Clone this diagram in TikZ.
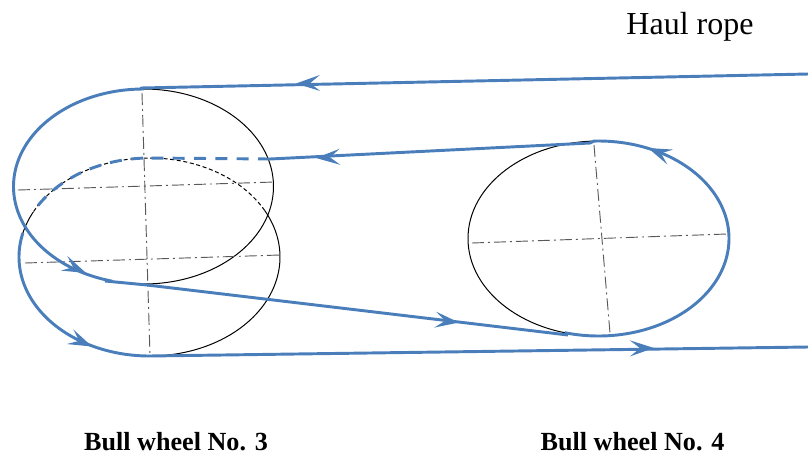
\documentclass[tikz,border=0pt]{standalone}
\usepackage{fontspec}
\setmainfont{Liberation Serif}
\tikzset{
  x=0.75pt,y=-0.75pt,
  rope/.style={draw=ropeblue,line width=2.2pt,line join=round},
  ropedash/.style={rope,dash pattern=on 9pt off 7pt},
  wheel/.style={draw=black,line width=0.75pt},
  wheeldash/.style={wheel,dash pattern=on 3pt off 2pt},
  axisline/.style={draw=axisgray,line width=0.7pt,dash pattern=on 9pt off 3pt on 1.5pt off 3pt},
  headfill/.style={fill=ropeblue,draw=none},
  label/.style={inner sep=0pt,anchor=center}
}
\definecolor{ropeblue}{HTML}{4A7EBB}
\definecolor{axisgray}{HTML}{595959}
% tip x, tip y, direction in screen degrees (clockwise from +x)
\newcommand{\rophead}[3]{\fill[headfill,shift={(#1,#2)},rotate=-#3] (0,0) -- (-24,-8) -- (-14,0) -- (-24,8) -- cycle;}
\begin{document}
\begin{tikzpicture}
\useasboundingbox (0,0) rectangle (808,455);
% wheel outlines
\draw[wheel] (143.5,186.5) ellipse [x radius=130,y radius=97.5];
\draw[wheel] plot[domain=-92:28,samples=100] ({149.5+130.5*cos(\x)},{257-99*sin(\x)});
\draw[wheel] plot[domain=153:168,samples=20] ({149.5+130.5*cos(\x)},{257-99*sin(\x)});
\draw[wheeldash] plot[domain=28:153,samples=100] ({149.5+130.5*cos(\x)},{257-99*sin(\x)});
\draw[wheel] (598.5,238.5) ellipse [x radius=130.5,y radius=97.5];
% centre lines
\draw[axisline] (18,190) -- (275,182);
\draw[axisline] (25,263) -- (280,255);
\draw[axisline] (142,93) -- (150,355);
\draw[axisline] (472,243) -- (727,234);
\draw[axisline] (594,145) -- (610,333);
% rope
\draw[rope] (808,74) -- (141,88) -- plot[domain=90:256,samples=120] ({143.5+130*cos(\x)},{186.5-97.5*sin(\x)});
\draw[rope] (105,281) -- (147,285) -- (568,335);
\draw[rope] plot[domain=-105:92,samples=140] ({598.5+130.5*cos(\x)},{238.5-97.5*sin(\x)}) -- (590,143) -- (270,159);
\draw[ropedash] (270,159) -- (149,158) -- plot[domain=90:153,samples=60] ({149.5+130.5*cos(\x)},{257-99*sin(\x)});
\draw[rope] plot[domain=166:270,samples=100] ({149.5+130.5*cos(\x)},{257-99*sin(\x)}) -- (808,347);
% arrowheads
\rophead{296}{83.5}{178.8}
\rophead{316}{158}{177.2}
\rophead{648}{148}{202}
\rophead{459}{322.5}{6.8}
\rophead{654}{348}{-0.8}
\rophead{86}{273}{24}
\rophead{92}{346.5}{24}
% labels
\node[label,font=\fontsize{24}{28}\selectfont] (haul) at (690,27) {Haul rope};
\node[label,font=\fontsize{19.6}{22}\selectfont\bfseries] (bw3) at (176,442) {Bull wheel No. 3};
\node[label,font=\fontsize{19.6}{22}\selectfont\bfseries] (bw4) at (632.5,442) {Bull wheel No. 4};
\end{tikzpicture}
\end{document}
